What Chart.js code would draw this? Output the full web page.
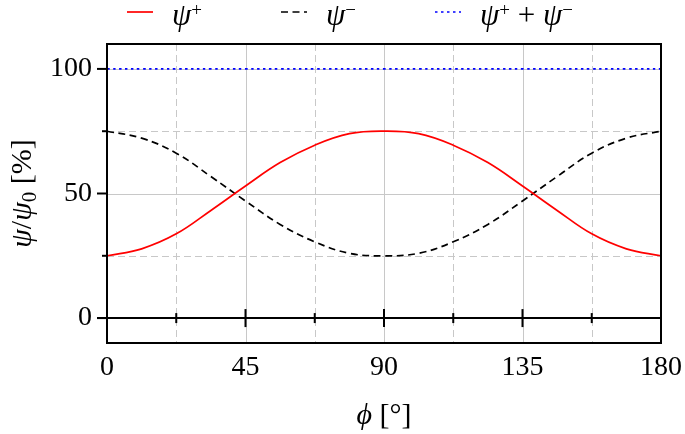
<!DOCTYPE html>
<html>
<head>
<meta charset="utf-8">
<script src="https://cdn.jsdelivr.net/npm/chart.js@4/dist/chart.umd.min.js"></script>
<style>
  html, body { margin: 0; padding: 0; background: #fff; }
</style>
</head>
<body>
<canvas id="chart" width="685" height="434"></canvas>
<script>
// values
const phi = [0, 11.25, 22.5, 33.75, 45, 56.25, 67.5, 78.75, 90, 101.25, 112.5, 123.75, 135, 146.25, 157.5, 168.75, 180];
const psiPlus = [25, 27.8, 33.8, 43.2, 53, 62.4, 69.4, 74, 75, 74, 69.4, 62.4, 53, 43.2, 33.8, 27.8, 25];
const psiMinus = [75, 72.2, 66.2, 56.8, 47, 37.6, 30.6, 26, 25, 26, 30.6, 37.6, 47, 56.8, 66.2, 72.2, 75];
const psiSum = [100, 100, 100, 100, 100, 100, 100, 100, 100, 100, 100, 100, 100, 100, 100, 100, 100];
const seriesLabels = ['ψ⁺', 'ψ⁻', 'ψ⁺ + ψ⁻'];
const xTitle = 'ϕ [°]';
const yTitle = 'ψ/ψ₀ [%]';

const xTicks = [0, 45, 90, 135, 180];
const xMinor = [22.5, 67.5, 112.5, 157.5];
const yTicks = [0, 50, 100];
const yMinor = [25, 75];

const serif = '"Liberation Serif", "DejaVu Serif", serif';
const gridGray = '#c8c8c8';

const pts = arr => phi.map((x, i) => ({ x: x, y: arr[i] }));

// writes a label with italic greek letters and small raised/lowered signs
function mathText(ctx, str, x, y, size, align) {
  const pieces = [];
  for (const ch of str) {
    if (ch === '⁺' || ch === '⁻') pieces.push({ t: ch === '⁺' ? '+' : '−', f: Math.round(size * 0.62) + 'px ' + serif, dy: -size * 0.3 });
    else if (ch === '₀') pieces.push({ t: '0', f: Math.round(size * 0.7) + 'px ' + serif, dy: size * 0.15 });
    else if ('ψϕ'.includes(ch)) pieces.push({ t: ch, f: 'italic ' + size + 'px ' + serif, dy: 0 });
    else pieces.push({ t: ch, f: size + 'px ' + serif, dy: 0 });
  }
  let total = 0;
  pieces.forEach(p => { ctx.font = p.f; p.w = ctx.measureText(p.t).width; total += p.w; });
  let cx = align === 'center' ? x - total / 2 : x;
  ctx.textAlign = 'left';
  ctx.textBaseline = 'alphabetic';
  pieces.forEach(p => { ctx.font = p.f; ctx.fillText(p.t, cx, y + p.dy); cx += p.w; });
}

// grid, axis line at 0, ticks, frame and axis titles, like the pgfplots look
const decorations = {
  id: 'decorations',
  beforeDatasetsDraw(chart) {
    const { ctx, chartArea: a, scales: { x, y } } = chart;
    ctx.save();
    ctx.lineWidth = 1;
    ctx.strokeStyle = gridGray;
    const vline = v => { const px = Math.round(x.getPixelForValue(v)) + 0.5; ctx.beginPath(); ctx.moveTo(px, a.top); ctx.lineTo(px, a.bottom); ctx.stroke(); };
    const hline = v => { const py = Math.round(y.getPixelForValue(v)) + 0.5; ctx.beginPath(); ctx.moveTo(a.left, py); ctx.lineTo(a.right, py); ctx.stroke(); };
    ctx.setLineDash([]);
    xTicks.forEach(vline);
    yTicks.forEach(hline);
    ctx.setLineDash([7, 4]);
    xMinor.forEach(vline);
    yMinor.forEach(hline);
    ctx.restore();
  },
  afterDraw(chart) {
    const { ctx, chartArea: a, scales: { x, y } } = chart;
    ctx.save();
    ctx.strokeStyle = '#000';
    ctx.lineWidth = 2;
    // horizontal axis at y = 0
    const y0 = y.getPixelForValue(0);
    ctx.beginPath();
    ctx.moveTo(a.left - 10, y0);
    ctx.lineTo(a.right, y0);
    ctx.stroke();
    xTicks.slice(1, -1).forEach(v => {
      const px = x.getPixelForValue(v);
      ctx.beginPath(); ctx.moveTo(px, y0 - 9); ctx.lineTo(px, y0 + 9); ctx.stroke();
    });
    xMinor.forEach(v => {
      const px = x.getPixelForValue(v);
      ctx.beginPath(); ctx.moveTo(px, y0 - 5); ctx.lineTo(px, y0 + 5); ctx.stroke();
    });
    // y ticks on the left
    yTicks.forEach(v => {
      const py = y.getPixelForValue(v);
      ctx.beginPath(); ctx.moveTo(a.left - 10, py); ctx.lineTo(a.left, py); ctx.stroke();
    });
    yMinor.forEach(v => {
      const py = y.getPixelForValue(v);
      ctx.beginPath(); ctx.moveTo(a.left - 5, py); ctx.lineTo(a.left, py); ctx.stroke();
    });
    // frame
    ctx.strokeRect(a.left, a.top, a.right - a.left, a.bottom - a.top);

    // axis titles
    ctx.fillStyle = '#000';
    mathText(ctx, xTitle, (a.left + a.right) / 2, 424, 30, 'center');
    ctx.translate(31, (a.top + a.bottom) / 2);
    ctx.rotate(-Math.PI / 2);
    mathText(ctx, yTitle, 0, 0, 30, 'center');
    ctx.restore();
  }
};

// legend row above the plot, drawn from the datasets
const lineLegend = {
  id: 'lineLegend',
  afterDraw(chart) {
    const ctx = chart.ctx;
    ctx.save();
    chart.data.datasets.forEach((ds, i) => {
      const x0 = 127 + i * 154;
      ctx.strokeStyle = ds.borderColor;
      ctx.lineWidth = ds.borderWidth;
      ctx.setLineDash(ds.borderDash || []);
      ctx.beginPath();
      ctx.moveTo(x0, 12);
      ctx.lineTo(x0 + 26, 12);
      ctx.stroke();
      ctx.setLineDash([]);
      ctx.fillStyle = '#000';
      mathText(ctx, ds.label, x0 + 45, 25, 31, 'left');
    });
    ctx.restore();
  }
};

new Chart(document.getElementById('chart'), {
  type: 'line',
  data: {
    datasets: [
      { label: seriesLabels[0], data: pts(psiPlus), borderColor: '#ff0000', borderWidth: 1.7 },
      { label: seriesLabels[1], data: pts(psiMinus), borderColor: '#000000', borderWidth: 1.7, borderDash: [7, 4.5] },
      { label: seriesLabels[2], data: pts(psiSum), borderColor: '#0000ff', borderWidth: 1.7, borderDash: [2.5, 3.5] }
    ]
  },
  options: {
    responsive: false,
    devicePixelRatio: 1,
    animation: false,
    layout: { padding: { top: 44, right: 24, bottom: 0, left: 0 } },
    elements: {
      point: { radius: 0 },
      line: { tension: 0.4, fill: false }
    },
    plugins: {
      legend: { display: false },
      tooltip: { enabled: false }
    },
    scales: {
      x: {
        type: 'linear',
        min: 0,
        max: 180,
        afterBuildTicks: s => { s.ticks = xTicks.map(v => ({ value: v })); },
        afterFit: s => { s.height = 91; s.paddingLeft = 0; s.paddingRight = 0; },
        grid: { display: false, drawTicks: false },
        border: { display: false },
        ticks: { color: '#000', padding: 8, maxRotation: 0, autoSkip: false, font: { family: serif, size: 28 } }
      },
      y: {
        type: 'linear',
        min: -10,
        max: 110,
        afterBuildTicks: s => { s.ticks = yTicks.map(v => ({ value: v })); },
        afterFit: s => { s.width = 107; s.paddingTop = 0; s.paddingBottom = 0; },
        grid: { display: false, drawTicks: false },
        border: { display: false },
        ticks: { color: '#000', padding: 15, font: { family: serif, size: 28 } }
      }
    }
  },
  plugins: [decorations, lineLegend]
});
</script>
</body>
</html>
